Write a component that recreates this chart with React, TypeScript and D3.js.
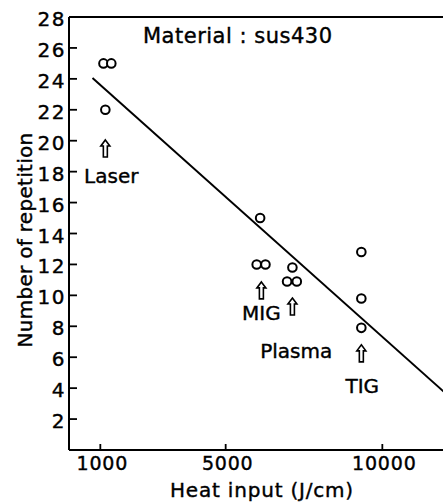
import React from "react";
import * as d3 from "d3";

const W = 443;
const H = 504;

// data
const laserX = [1100, 1350, 1160];
const laserY = [25, 25, 22];
const migX = [6100, 5990, 6270];
const migY = [15, 12, 12];
const plasmaX = [7130, 6960, 7270];
const plasmaY = [11.8, 10.9, 10.9];
const tigX = [9330, 9330, 9330];
const tigY = [12.8, 9.8, 7.9];
const fitX = [750, 12000];
const fitY = [24.05, 3.7];

const yTicks = [2, 4, 6, 8, 10, 12, 14, 16, 18, 20, 22, 24, 26];
const yTickLabels = ["2", "4", "6", "8", "10", "12", "14", "16", "18", "20", "22", "24", "26", "28"];
const yLabelValues = [2, 4, 6, 8, 10, 12, 14, 16, 18, 20, 22, 24, 26, 28];
const xTicks = [1000, 5000, 10000];
const xTickLabels = ["1000", "5000", "10000"];

const labelNames = ["Laser", "MIG", "Plasma", "TIG"];
const labelX = [1350, 6140, 7250, 9360];
const labelY = [17.27, 8.4, 5.95, 3.69];
const arrowX = [1160, 6140, 7130, 9330];
const arrowTopY = [20.05, 10.87, 9.83, 6.8];

const FONT = "DejaVu Sans";

export default function App() {
  const x = d3.scaleLinear().domain([0, 12000]).range([69, 445]);
  const y = d3.scaleLinear().domain([0, 28]).range([450, 17]);

  const points: [number, number][] = [];
  [
    [laserX, laserY],
    [migX, migY],
    [plasmaX, plasmaY],
    [tigX, tigY],
  ].forEach(([xs, ys]) => xs.forEach((v, i) => points.push([v, ys[i]])));

  const line = d3
    .line<[number, number]>()
    .x((d) => x(d[0]))
    .y((d) => y(d[1]));
  const fitData: [number, number][] = fitX.map((v, i) => [v, fitY[i]]);

  const arrowPath = (cx: number, top: number) => {
    const h = 17;
    return `M${cx},${top} L${cx + 4.5},${top + 6} L${cx + 2},${top + 6} L${cx + 2},${top + h} L${cx - 2},${top + h} L${cx - 2},${top + 6} L${cx - 4.5},${top + 6} Z`;
  };

  const ts = { stroke: "#000", strokeWidth: 0.4 } as const;

  return (
    <svg
      width={W}
      height={H}
      style={{ position: "absolute", left: 0, top: 0, background: "#fff" }}
      fontFamily={FONT}
    >
      <rect width={W} height={H} fill="#fff" />
      {/* axes */}
      <line x1={x(0)} y1={y(0)} x2={W} y2={y(0)} stroke="#000" strokeWidth={2} />
      <line x1={x(0)} y1={y(0)} x2={x(0)} y2={y(28)} stroke="#000" strokeWidth={2} />
      <line x1={x(0)} y1={y(28)} x2={W} y2={y(28)} stroke="#000" strokeWidth={2} />
      {yTicks.map((t) => (
        <line key={"yt" + t} x1={x(0)} x2={x(0) + 8} y1={y(t)} y2={y(t)} stroke="#000" strokeWidth={1.8} />
      ))}
      {yLabelValues.map((t, i) => (
        <text
          key={"yl" + t}
          x={66}
          y={y(t) + 9}
          textAnchor="end"
          fontSize={20}
          letterSpacing={1.5}
          fill="#000"
          {...ts}
        >
          {yTickLabels[i]}
        </text>
      ))}
      {xTicks.map((t, i) => (
        <g key={"xt" + t}>
          <line x1={x(t)} x2={x(t)} y1={y(0)} y2={y(0) - 6} stroke="#000" strokeWidth={1.8} />
          <text x={x(t) + 2} y={470} textAnchor="middle" fontSize={19} letterSpacing={0.8} fill="#000" {...ts}>
            {xTickLabels[i]}
          </text>
        </g>
      ))}
      <text x={262} y={497} textAnchor="middle" fontSize={20} letterSpacing={0.8} fill="#000" {...ts}>
        Heat input (J/cm)
      </text>
      <text
        transform={`translate(32,240) rotate(-90)`}
        textAnchor="middle"
        fontSize={20}
        letterSpacing={0.3}
        fill="#000"
        {...ts}
      >
        Number of repetition
      </text>
      <text x={143} y={43} fontSize={21} letterSpacing={0.5} fill="#000" {...ts}>
        Material : sus430
      </text>
      {/* fit line */}
      <path d={line(fitData) || ""} fill="none" stroke="#000" strokeWidth={2} />
      {/* points */}
      {points.map((p, i) => (
        <circle key={"p" + i} cx={x(p[0])} cy={y(p[1])} r={4.3} fill="#fff" stroke="#000" strokeWidth={2} />
      ))}
      {/* arrows */}
      {arrowX.map((v, i) => (
        <path key={"a" + i} d={arrowPath(x(v), y(arrowTopY[i]))} fill="#fff" stroke="#000" strokeWidth={1.6} />
      ))}
      {labelNames.map((n, i) => (
        <text key={"l" + n} x={x(labelX[i])} y={y(labelY[i])} textAnchor="middle" fontSize={20} fill="#000" {...ts}>
          {n}
        </text>
      ))}
    </svg>
  );
}
